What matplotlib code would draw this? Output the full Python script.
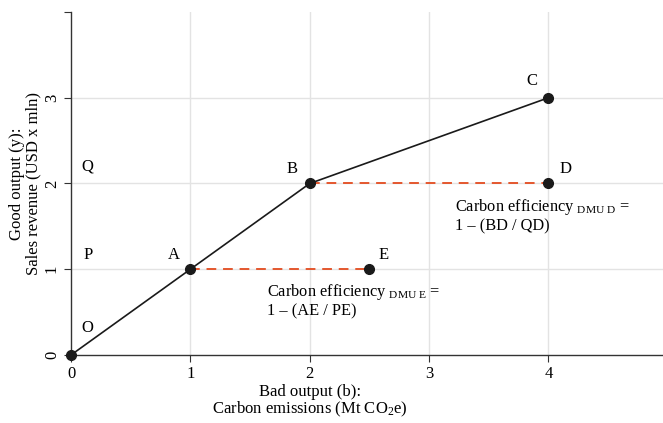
import matplotlib
matplotlib.use("Agg")
import matplotlib.pyplot as plt

plt.rcParams['font.family'] = ['Liberation Serif', 'DejaVu Serif']
plt.rcParams['mathtext.fontset'] = 'custom'
plt.rcParams['mathtext.rm'] = 'Liberation Serif'
plt.rcParams['mathtext.it'] = 'Liberation Serif:italic'

# Data
frontier_x = [0, 1, 2, 4]
frontier_y = [0, 1, 2, 3]
point_names = ['O', 'A', 'B', 'C', 'D', 'E']
point_x = [0, 1, 2, 4, 4, 2.5]
point_y = [0, 1, 2, 3, 2, 1]
dash_segments = [((1, 2.5), (1, 1)), ((2, 4), (2, 2))]
# text labels (name, x, y)
labels = [('O', 0.14, 0.31), ('P', 0.14, 1.17), ('Q', 0.14, 2.2),
          ('A', 0.86, 1.17), ('B', 1.85, 2.17), ('C', 3.86, 3.2),
          ('D', 4.14, 2.17), ('E', 2.62, 1.17)]
xticks = [0, 1, 2, 3, 4]
yticks = [0, 1, 2, 3, 4]
ytick_labels = ['0', '1', '2', '3', '']

fig = plt.figure(figsize=(6.63, 4.23), dpi=100)
ax = fig.add_axes([71/663, (423-355)/423, (663-71)/663, (355-12)/423])
ax.set_xlim(0, 4.96)
ax.set_ylim(0, 3.99)

grid_c = '#e3e3e3'
for x in [1, 2, 3, 4]:
    ax.axvline(x, color=grid_c, lw=1.0, zorder=0)
for y in [1, 2, 3]:
    ax.axhline(y, color=grid_c, lw=1.0, zorder=0)

ax.plot(frontier_x, frontier_y, color='#1a1a1a', lw=1.2, zorder=2)
for xs, ys in dash_segments:
    ax.plot(xs, ys, color='#e4572e', lw=1.4, ls=(0, (5, 3.5)), zorder=2)
ax.plot(point_x, point_y, 'o', color='#1a1a1a', ms=7, zorder=3, clip_on=False)

for name, x, y in labels:
    ax.text(x, y, name, fontsize=12, ha='center', va='center')

fs = 11.8
ax.text(3.22, 1.73, r'Carbon efficiency $_{\mathrm{DMU\ D}}$ =', fontsize=fs, ha='left', va='center')
ax.text(3.22, 1.50, '1 – (BD / QD)', fontsize=fs, ha='left', va='center')
ax.text(1.64, 0.74, r'Carbon efficiency $_{\mathrm{DMU\ E}}$ =', fontsize=fs, ha='left', va='center')
ax.text(1.64, 0.51, '1 – (AE / PE)', fontsize=fs, ha='left', va='center')

for s in ['top', 'right']:
    ax.spines[s].set_visible(False)
for s in ['left', 'bottom']:
    ax.spines[s].set_color('#333333')
    ax.spines[s].set_linewidth(1.0)

ax.set_xticks(xticks)
ax.set_xticklabels([str(t) for t in xticks])
ax.set_yticks(yticks)
ax.set_yticklabels(ytick_labels, rotation=90, va='center')
ax.tick_params(axis='both', labelsize=12, length=5, color='#333333', pad=3)

ax.set_xlabel('Bad output (b):\nCarbon emissions (Mt CO$_2$e)', fontsize=12, linespacing=1.0, labelpad=1)
ax.xaxis.label.set_position((2.0/4.96, 0))
ax.set_ylabel('Good output (y):\nSales revenue (USD x mln)', fontsize=12, linespacing=1.0, labelpad=2)

fig.savefig('out.png', dpi=100)
